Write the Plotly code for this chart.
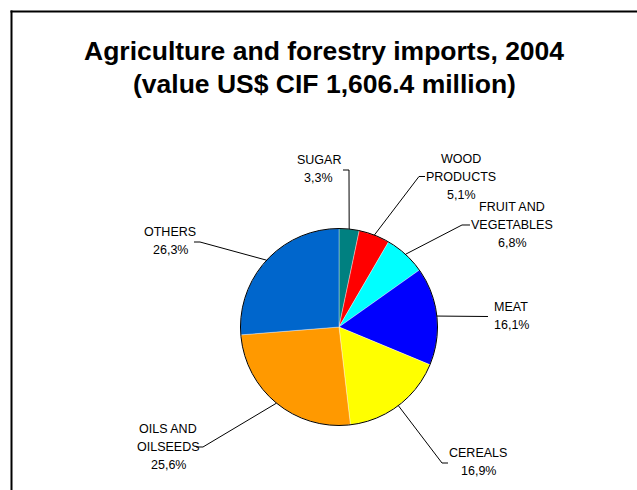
import math
import plotly.graph_objects as go

# ---- data ----
categories = ["SUGAR", "WOOD PRODUCTS", "FRUIT AND VEGETABLES", "MEAT", "CEREALS",
              "OILS AND OILSEEDS", "OTHERS"]
shares = [3.3, 5.1, 6.8, 16.1, 16.9, 25.6, 26.3]
share_labels = ["3,3%", "5,1%", "6,8%", "16,1%", "16,9%", "25,6%", "26,3%"]
label_lines = [["SUGAR"], ["WOOD", "PRODUCTS"], ["FRUIT AND", "VEGETABLES"], ["MEAT"],
               ["CEREALS"], ["OILS AND", "OILSEEDS"], ["OTHERS"]]
colors = ["#008080", "#FF0000", "#00FFFF", "#0000FF", "#FFFF00", "#FF9900", "#0066CC"]

W, H = 637, 490
CX, CY, R = 339.0, 327.0, 98.5


def px(x):
    return x / W


def py(y):
    return 1 - y / H


# label layout (screen pixel): centre x, first line centre y
label_pos = [(319, 160), (461, 159), (512, 207), (511, 307), (478, 453), (168, 429), (170, 232)]
LINE_GAP = 18
# leader-line elbows (screen pixel), from the label side toward the slice
leader_elbows = [
    [(343, 170), (349, 170)],
    [(425, 176.5), (419, 176.5)],
    [(470, 225), (462, 225)],
    [(488, 316.5)],
    [(448, 463), (442, 463)],
    [(196, 447), (203, 447)],
    [(194, 242), (200, 242)],
]

fig = go.Figure()
fig.add_trace(go.Pie(
    labels=categories,
    values=shares,
    sort=False,
    direction="clockwise",
    rotation=0,
    textinfo="none",
    hoverinfo="label+percent",
    marker=dict(colors=colors, line=dict(color="rgba(255,255,255,0.6)", width=0.6)),
    domain=dict(x=[px(CX - R), px(CX + R)], y=[py(CY + R), py(CY - R)]),
    showlegend=False,
))

shapes = []
annotations = []

# white strip on the right edge (frame's right side lies beyond the page)
shapes.append(dict(type="rect", xref="paper", yref="paper",
                   x0=px(600), x1=1, y0=0, y1=py(14),
                   line=dict(width=0), fillcolor="#FFFFFF", layer="above"))
# frame (top and left edges visible; right/bottom run off the page)
shapes.append(dict(type="line", xref="paper", yref="paper",
                   x0=px(10.5), x1=1, y0=py(11.5), y1=py(11.5),
                   line=dict(color="#000000", width=2)))
shapes.append(dict(type="line", xref="paper", yref="paper",
                   x0=px(11.5), x1=px(11.5), y0=py(10.5), y1=0,
                   line=dict(color="#000000", width=2)))
# pie outline
shapes.append(dict(type="circle", xref="paper", yref="paper",
                   x0=px(CX - R), x1=px(CX + R), y0=py(CY + R), y1=py(CY - R),
                   line=dict(color="#000000", width=1)))

total = sum(shares)
cum = 0.0
for i, v in enumerate(shares):
    mid = (cum + v / 2) / total * 2 * math.pi
    cum += v
    ex = CX + R * math.sin(mid)
    ey = CY - R * math.cos(mid)
    pts = leader_elbows[i] + [(ex, ey)]
    path = "M " + " L ".join(f"{px(a):.5f},{py(b):.5f}" for a, b in pts)
    shapes.append(dict(type="path", xref="paper", yref="paper", path=path,
                       line=dict(color="#000000", width=1)))
    lx, ly = label_pos[i]
    lines = label_lines[i] + [share_labels[i]]
    for k, t in enumerate(lines):
        annotations.append(dict(text=t, x=px(lx), y=py(ly + k * LINE_GAP),
                                xref="paper", yref="paper", showarrow=False,
                                xanchor="center", yanchor="middle",
                                font=dict(family="Arial, Liberation Sans", size=12.5,
                                          color="#000000")))

# title
title_lines = ["Agriculture and forestry imports, 2004", "(value US$ CIF 1,606.4 million)"]
title_y = [51, 84]
for t, yy in zip(title_lines, title_y):
    annotations.append(dict(text=f"<b>{t}</b>", x=px(324), y=py(yy), xref="paper",
                            yref="paper", showarrow=False, xanchor="center",
                            yanchor="middle",
                            font=dict(family="Arial, Liberation Sans", size=26.5,
                                      color="#000000")))

fig.update_layout(
    width=W, height=H, autosize=False,
    margin=dict(l=0, r=0, t=0, b=0),
    paper_bgcolor="#FFFFFF", plot_bgcolor="#FFFFFF",
    shapes=shapes, annotations=annotations,
)

fig.write_html(
    "out.html",
    config={"displayModeBar": False},
    post_script="document.body.style.margin='0';document.body.style.overflow='hidden';",
)
